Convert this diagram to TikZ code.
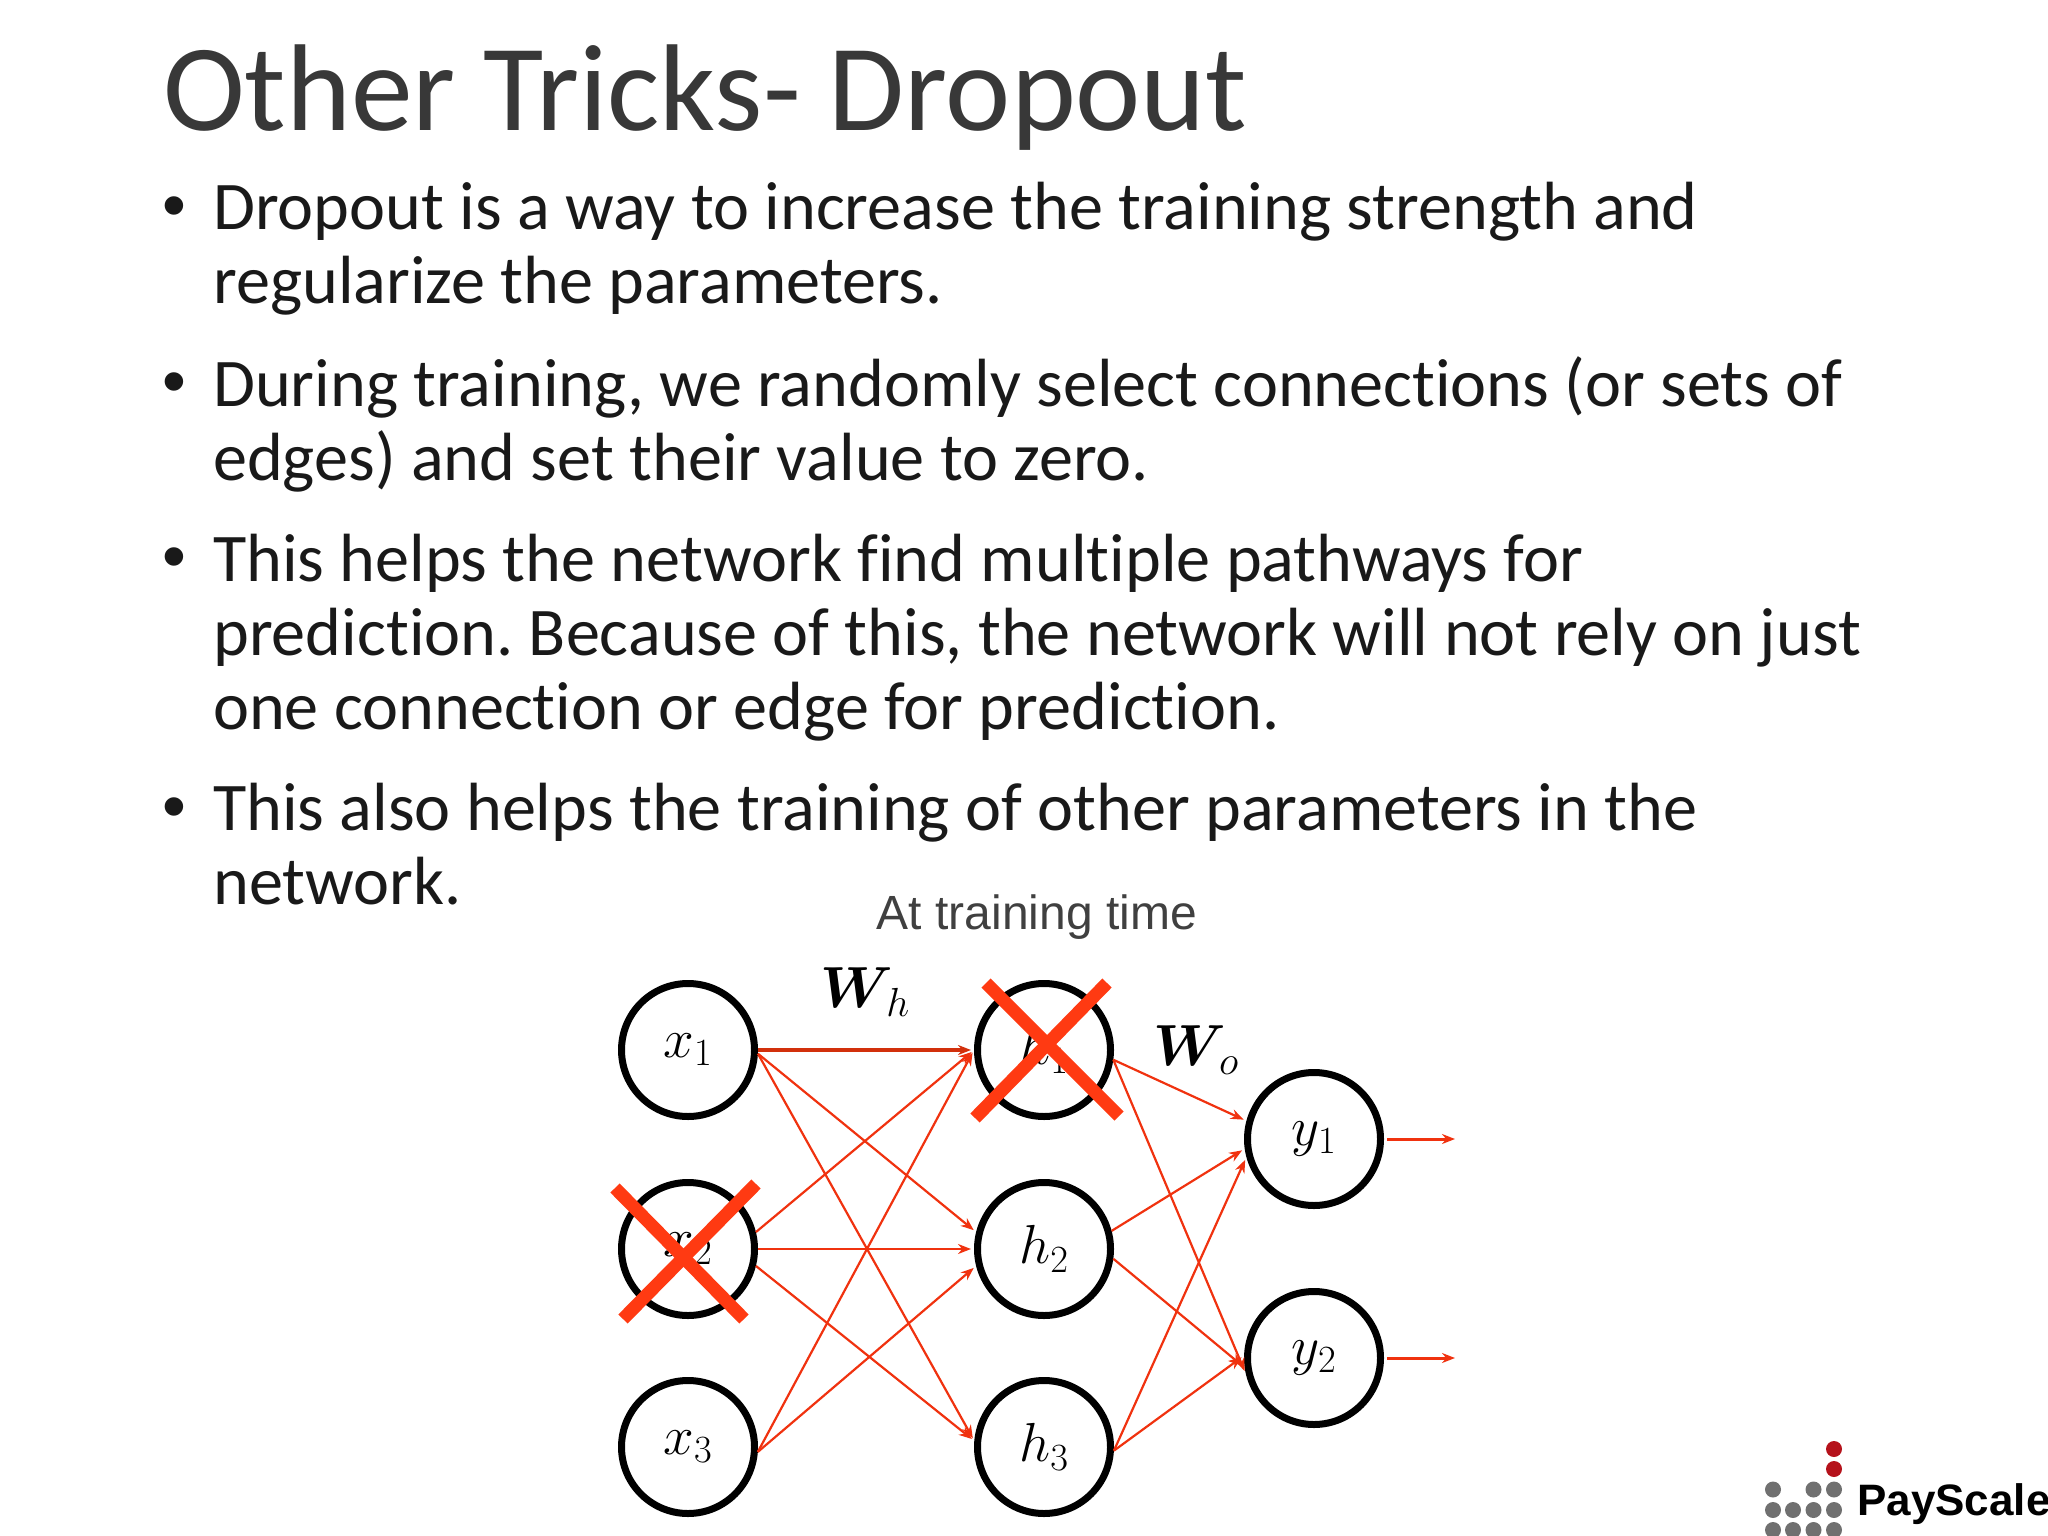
\documentclass[tikz,border=0pt]{standalone}
\usepackage{fix-cm}
\usepackage{amsmath}
\usepackage{fontspec}
\setmainfont[Ligatures=NoCommon]{Carlito}
\newfontfamily\labelfont{Liberation Sans}
\usetikzlibrary{arrows.meta}
\definecolor{edgered}{HTML}{F0320F}
\definecolor{edgedark}{HTML}{D2300C}
\definecolor{crossred}{HTML}{FF3A12}
\definecolor{dotgray}{HTML}{707070}
\definecolor{dotred}{HTML}{B5121B}
\tikzset{
  bodytext/.style={anchor=north west, inner sep=0pt, align=left, font=\frenchspacing\fontsize{68.2}{74}\selectfont, text=black!90},
  bulletmark/.style={inner sep=0pt, font=\labelfont\fontsize{68}{68}\selectfont, text=black!90},
  unit/.style={circle, draw=black, line width=7pt, minimum size=133pt, inner sep=0pt, fill=white, font=\fontsize{55}{55}\selectfont},
  edge/.style={draw=edgered, line width=2.2pt, shorten >=3pt},
  outedge/.style={draw=edgered, line width=3pt},
  crossout/.style={draw=crossred, line width=13pt}
}
\begin{document}
\begin{tikzpicture}[x=1pt, y=-1pt, line join=round, >={Stealth[length=13pt,width=10pt]}]
 \useasboundingbox (0,0) rectangle (2048,1536);
 \node (title) at (163,45) [anchor=north west, inner sep=0pt, font=\fontsize{123.5}{123.5}\selectfont, text=black!78] {Other Tricks- Dropout};
 % text
 \node (mark1) at (174,213) [bulletmark] {•};
 \node (para1) at (213,182) [bodytext] {Dropout is a way to increase the training strength and\\regularize the parameters.};
 \node (mark2) at (174,389) [bulletmark] {•};
 \node (para2) at (213,356) [bodytext] {During training, we randomly select connections (or sets of\\edges) and set their value to zero.};
 \node (mark3) at (174,564) [bulletmark] {•};
 \node (para3) at (213,534) [bodytext] {This helps the network find multiple pathways for\\prediction. Because of this, the network will not rely on just\\one connection or edge for prediction.};
 \node (mark4) at (174,814) [bulletmark] {•};
 \node (para4) at (213,783) [bodytext] {This also helps the training of other parameters in the\\network.};
 % network
 \node (caption) at (1037,929) [anchor=base, inner sep=0pt, font=\labelfont\fontsize{48}{48}\selectfont, text=black!75] {At training time};
 \node (x1) at (688,1050) [unit] {$x_1$};
 \node (x2) at (688,1249) [unit] {$x_2$};
 \node (x3) at (688,1447) [unit] {$x_3$};
 \node (h1) at (1044,1050) [unit] {$h_1$};
 \node (h2) at (1044,1249) [unit] {$h_2$};
 \node (h3) at (1044,1447) [unit] {$h_3$};
 \node (y1) at (1314,1139) [unit] {$y_1$};
 \node (y2) at (1314,1358) [unit] {$y_2$};
 \node (wh) at (865,992) [inner sep=0pt, font=\fontsize{58}{58}\selectfont] {$\boldsymbol{W}_{\!h}$};
 \node (wo) at (1196,1050) [inner sep=0pt, font=\fontsize{58}{58}\selectfont] {$\boldsymbol{W}_{\!o}$};
 \coordinate (out1) at (1455,1139);
 \coordinate (out2) at (1455,1358);
 \foreach \a/\b in {x1.-3/h2.166, x1.-3/h3.175,
   x2.14/h1.180, x2.0/h2.180, x2.-14/h3.175,
   x3.-4/h1.180, x3.-4/h2.194,
   h1.-8/y1.165, h1.-8/y2.193, h2.15/y1.188, h2.-8/y2.188, h3.-3/y1.195, h3.-3/y2.178}
   \draw[edge,->] (\a) -- (\b);
 \draw[edge,->,draw=edgedark,line width=3.5pt] (x1) -- (h1);
 \draw[outedge,->] (y1) ++(73,0) -- (out1);
 \draw[outedge,->] (y2) ++(73,0) -- (out2);
 % crosses
 \draw[crossout] (986,983) -- (1119,1116);
 \draw[crossout] (1107,983) -- (975,1118);
 \draw[crossout] (615,1188) -- (744,1319);
 \draw[crossout] (756,1184) -- (623,1319);
 % logo
 \fill[dotred] (1834,1449) circle (8) (1834,1469) circle (8);
 \fill[dotgray]
 (1773,1489.5) circle (8) (1813.5,1489.5) circle (8) (1834,1489.5) circle (8);
 \foreach \c in {1773,1793,1813.5,1834}
   \fill[dotgray] (\c,1510) circle (8) (\c,1530) circle (8);
 \node (logo) at (1857,1515) [anchor=base west, inner sep=0pt, font=\labelfont\bfseries\fontsize{44}{44}\selectfont] {PayScale};
\end{tikzpicture}
\end{document}
